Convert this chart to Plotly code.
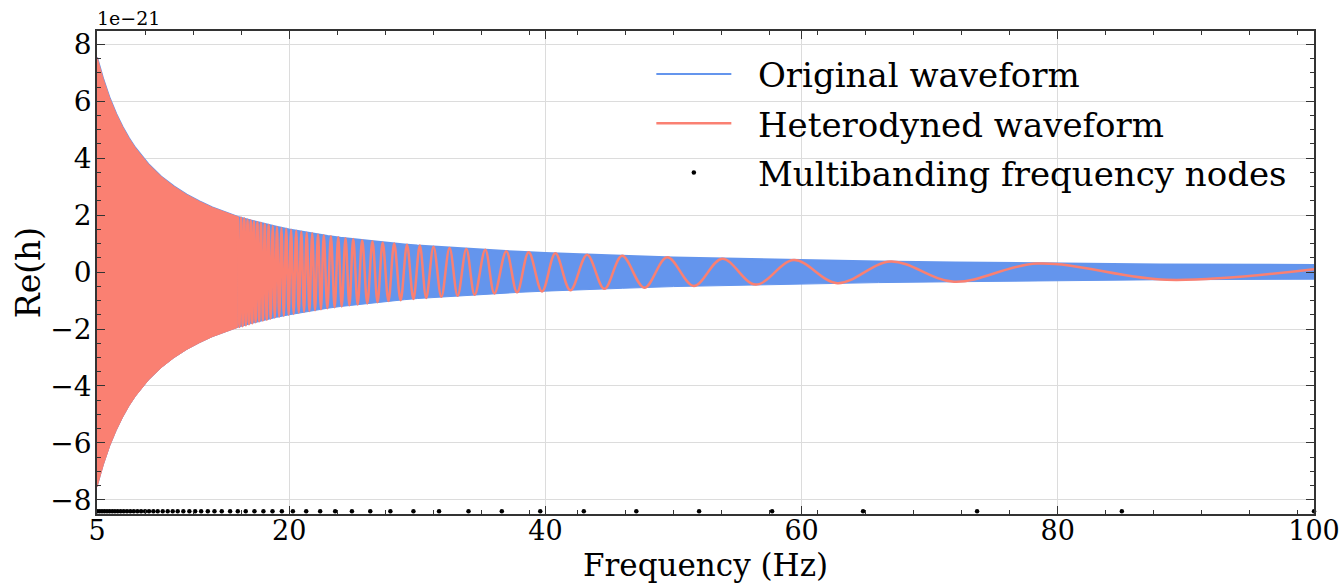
import plotly.graph_objects as go

# ---- data (units of 1e-21) ----
# envelope of the original waveform |h(f)|
env_f = [5, 5.5, 6, 6.5, 7, 7.5, 8, 9, 10, 11, 12, 13, 14, 15, 16, 17, 18, 19, 20, 21, 22,
         23, 24, 25, 26, 27, 28, 29, 30, 32, 34, 36, 38, 40, 43, 46, 50, 54, 60, 66, 72,
         80, 88, 100]
env_amp = [7.55, 6.76, 6.10, 5.56, 5.10, 4.70, 4.36, 3.80, 3.36, 3.01, 2.72, 2.48, 2.27,
           2.10, 1.94, 1.81, 1.69, 1.59, 1.50, 1.42, 1.34, 1.27, 1.21, 1.16, 1.10, 1.06,
           1.01, 0.97, 0.93, 0.87, 0.81, 0.76, 0.71, 0.67, 0.61, 0.57, 0.51, 0.47, 0.42,
           0.37, 0.34, 0.30, 0.27, 0.25]

# heterodyned waveform: unresolved (dense) part ends here
het_dense_end = 16.0

# heterodyned waveform: resolved extrema (frequency, value)
het_f = [16.00, 16.12, 16.25, 16.37, 16.50, 16.62, 16.75, 16.87, 17.00, 17.12, 17.25, 17.38,
         17.52, 17.66, 17.80, 17.95, 18.10, 18.25, 18.40, 18.56, 18.72, 18.88, 19.05, 19.22,
         19.40, 19.58, 19.77, 19.96, 20.15, 20.35, 20.55, 20.75, 20.95, 21.16, 21.37, 21.58,
         21.80, 22.02, 22.25, 22.48, 22.70, 22.98, 23.26, 23.55, 23.83, 24.10, 24.40, 24.70,
         25.00, 25.35, 25.70, 26.10, 26.50, 26.90, 27.30, 27.75, 28.20, 28.70, 29.20, 29.70,
         30.20, 30.70, 31.27, 31.88, 32.52, 33.15, 33.83, 34.48, 35.31, 36.02, 36.95, 37.79,
         38.70, 39.74, 40.78, 41.95, 43.26, 44.61, 45.99, 47.73, 49.51, 51.59, 53.80, 56.41,
         59.40, 62.79, 66.95, 71.90, 78.40, 88.50, 100.00]
het_val = [1.94, -1.93, 1.91, -1.90, 1.88, -1.87, 1.84, -1.83, 1.81, -1.80, 1.78, -1.76,
           1.75, -1.73, 1.72, -1.70, 1.68, -1.67, 1.65, -1.63, 1.62, -1.60, 1.59, -1.57,
           1.55, -1.54, 1.52, -1.50, 1.49, -1.47, 1.45, -1.43, 1.42, -1.40, 1.38, -1.37,
           1.36, -1.34, 1.32, -1.31, 1.29, -1.27, 1.26, -1.24, 1.22, -1.21, 1.19, -1.17,
           1.16, -1.14, 1.12, -1.10, 1.08, -1.06, 1.04, -1.02, 1.00, -0.99, 0.96, -0.95,
           0.93, -0.91, 0.89, -0.87, 0.85, -0.83, 0.81, -0.80, 0.78, -0.75, 0.73, -0.71,
           0.70, -0.68, 0.66, -0.64, 0.61, -0.59, 0.57, -0.55, 0.52, -0.49, 0.47, -0.44,
           0.42, -0.39, 0.37, -0.34, 0.30, -0.27, 0.10]

# multibanding frequency nodes
node_f = [5.02, 5.20, 5.39, 5.58, 5.78, 5.98, 6.19, 6.40, 6.62, 6.85, 7.09, 7.34, 7.60,
          7.87, 8.15, 8.44, 8.75, 9.06, 9.40, 9.74, 10.13, 10.52, 10.91, 11.30, 11.74,
          12.21, 12.66, 13.13, 13.65, 14.17, 14.74, 15.39, 15.99, 16.61, 17.29, 17.99,
          18.70, 19.43, 20.29, 21.33, 22.42, 23.59, 24.90, 26.33, 27.90, 29.70, 31.70,
          34.00, 36.60, 39.60, 43.00, 47.10, 52.00, 57.70, 64.80, 73.70, 85.00, 100.00]
node_level = -8.4

x_ticks = [5, 20, 40, 60, 80, 100]

BLUE = "#6495ED"
RED = "#FA8072"
FONT = "DejaVu Serif"
PAD = "\u00a0\u00a0"

dense_f = [f for f in env_f if f <= het_dense_end]
dense_a = [a for f, a in zip(env_f, env_amp) if f <= het_dense_end]

fig = go.Figure()

# original waveform (dense oscillation -> band)
fig.add_trace(go.Scatter(x=env_f, y=env_amp, mode="lines", line=dict(color=BLUE, width=2),
                         name=PAD + "Original waveform", legendgroup="a", legendrank=1))
fig.add_trace(go.Scatter(x=env_f, y=[-a for a in env_amp], mode="lines",
                         line=dict(color=BLUE, width=1), fill="tonexty", fillcolor=BLUE,
                         showlegend=False, hoverinfo="skip"))

# heterodyned waveform, dense part
fig.add_trace(go.Scatter(x=dense_f, y=dense_a, mode="lines", line=dict(color=RED, width=1),
                         showlegend=False, hoverinfo="skip"))
fig.add_trace(go.Scatter(x=dense_f, y=[-a for a in dense_a], mode="lines",
                         line=dict(color=RED, width=1), fill="tonexty", fillcolor=RED,
                         showlegend=False, hoverinfo="skip"))
# heterodyned waveform, resolved part
fig.add_trace(go.Scatter(x=het_f, y=het_val, mode="lines",
                         line=dict(color=RED, width=2.5, shape="spline", smoothing=1.0),
                         name=PAD + "Heterodyned waveform", legendgroup="b", legendrank=2))

# nodes
fig.add_trace(go.Scatter(x=node_f, y=[node_level] * len(node_f), mode="markers",
                         marker=dict(color="black", size=4.5), cliponaxis=False,
                         name=PAD + "Multibanding frequency nodes", legendgroup="c",
                         legendrank=3))

axis_common = dict(
    showline=True, linecolor="#333333", linewidth=1.5, mirror="allticks",
    ticks="inside", ticklen=8, tickwidth=1, tickcolor="#333333",
    showgrid=True, gridcolor="#dcdcdc", gridwidth=1, zeroline=False, automargin=False,
)

fig.update_xaxes(
    range=[5, 100], tickmode="array", tickvals=x_ticks, ticklabelstandoff=-8,
    tickfont=dict(family=FONT, size=27, color="black"),
    minor=dict(tick0=5, dtick=3.75, ticks="inside", ticklen=4, tickcolor="#333333",
               showgrid=False),
    **axis_common,
)
fig.update_yaxes(
    range=[-8.5, 8.47], tickmode="linear", tick0=0, dtick=2, ticklabelstandoff=-2,
    tickfont=dict(family=FONT, size=28, color="black"),
    minor=dict(tick0=0, dtick=0.5, ticks="inside", ticklen=4, tickcolor="#333333",
               showgrid=False),
    title=dict(text="Re(h)", font=dict(family=FONT, size=33, color="black"), standoff=0),
    **axis_common,
)

# x-axis title (placed as an annotation for exact vertical placement)
fig.add_annotation(text="Frequency (Hz)", xref="paper", yref="paper", x=0.5, y=-0.1449,
                   xanchor="center", yanchor="bottom", showarrow=False, borderpad=0,
                   font=dict(family=FONT, size=31, color="black"))

fig.add_annotation(text="1e\u221221", xref="paper", yref="paper", x=0, y=1,
                   xanchor="left", yanchor="bottom", showarrow=False, xshift=-2,
                   font=dict(family=FONT, size=19, color="black"))

fig.update_layout(
    width=1342, height=584,
    margin=dict(l=97, r=28, t=31, b=70),
    plot_bgcolor="white", paper_bgcolor="white",
    showlegend=True,
    legend=dict(x=0.4555, y=0.97, xanchor="left", yanchor="top", bgcolor="rgba(0,0,0,0)",
                font=dict(family=FONT, size=34, color="black"), tracegroupgap=2,
                traceorder="grouped", itemwidth=75),
)

fig.write_html("out.html")
